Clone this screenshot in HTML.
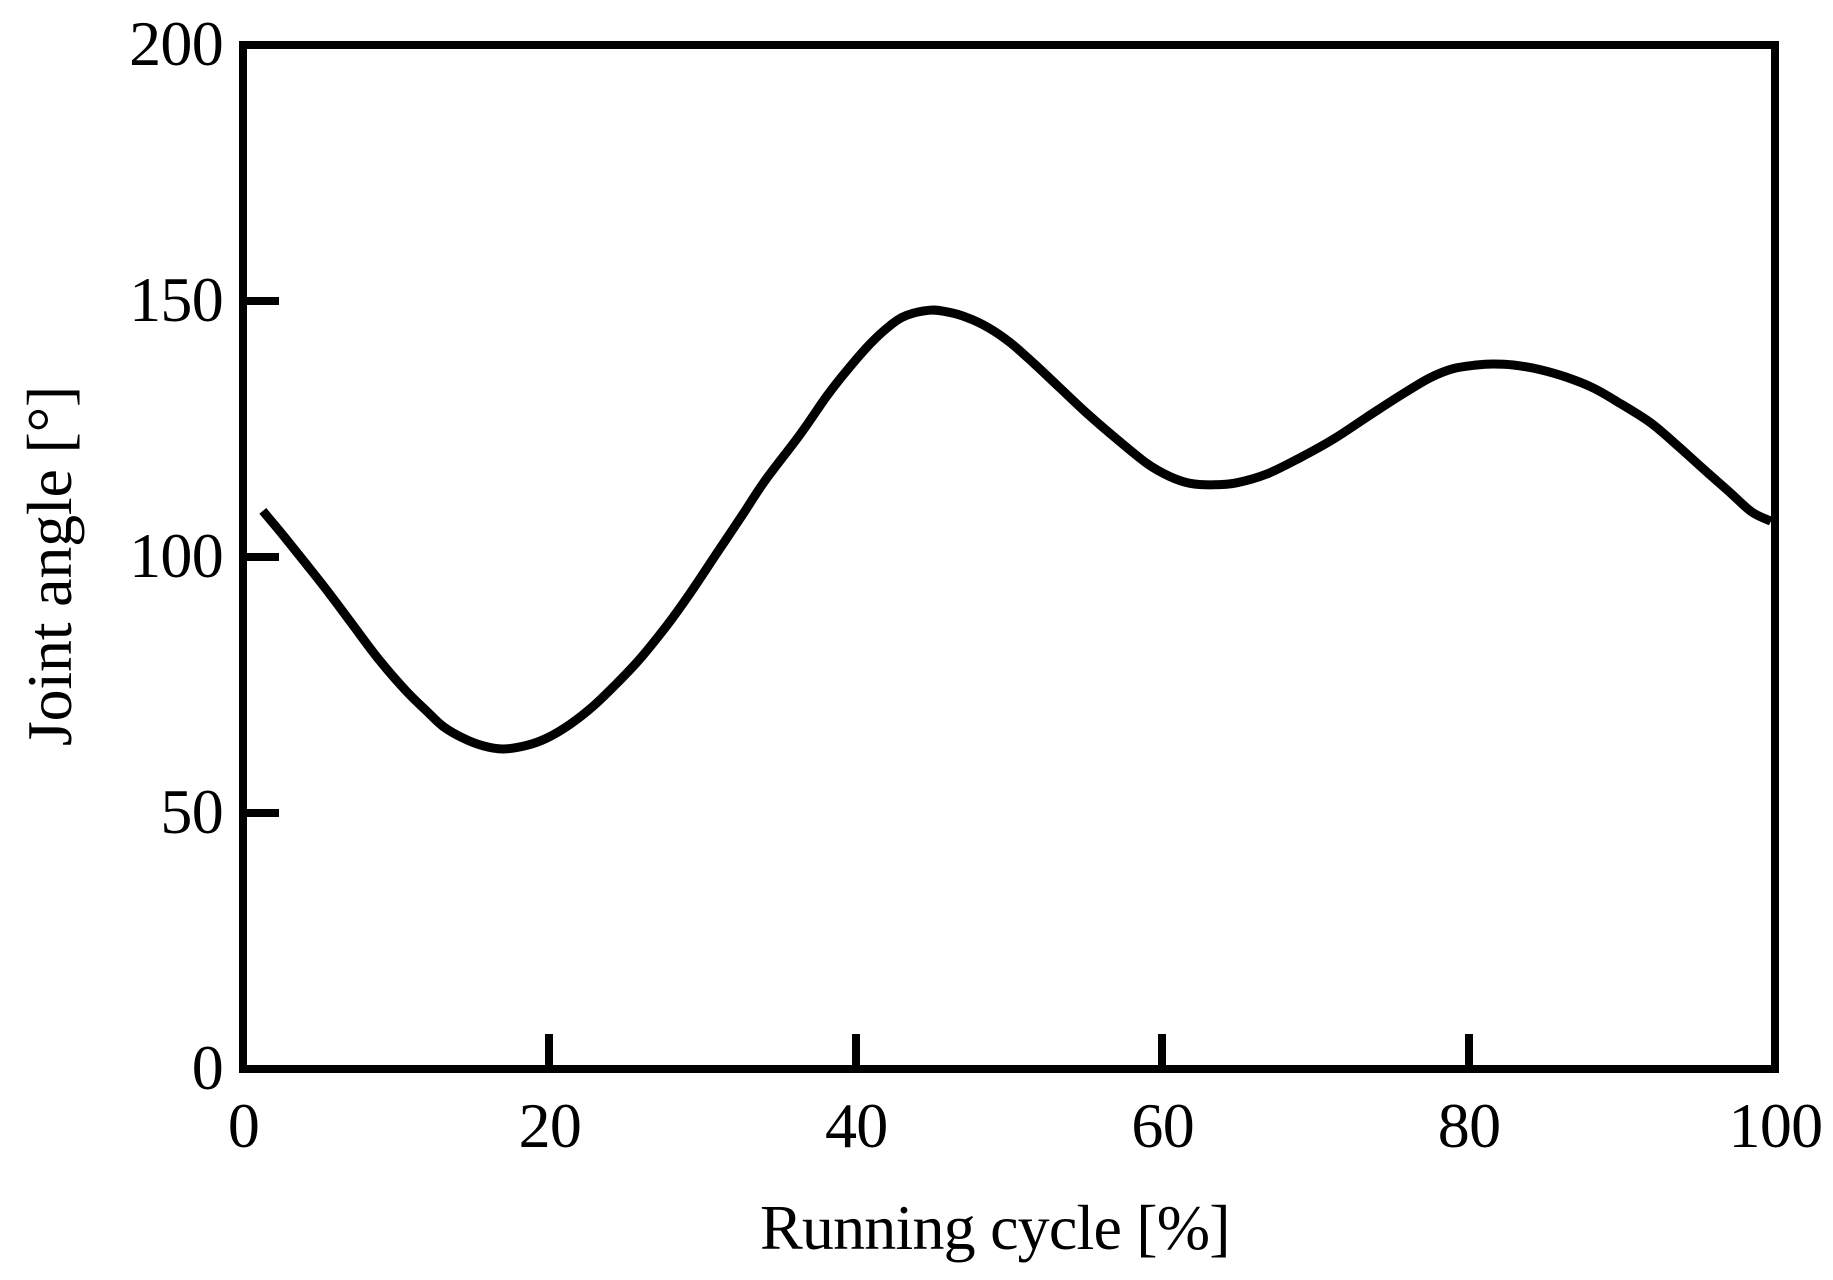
<!DOCTYPE html>
<html>
<head>
<meta charset="utf-8">
<title>Joint angle over running cycle</title>
<style>
html,body{margin:0;padding:0;background:#fff;}
svg{display:block;}
text{font-family:"Liberation Serif",serif;fill:#000;}
</style>
</head>
<body>
<svg id="chart" xmlns="http://www.w3.org/2000/svg" width="1833" height="1280" viewBox="0 0 1833 1280">
<rect x="0" y="0" width="1833" height="1280" fill="#fff"/>
<rect id="frame" fill="none" stroke="#000" stroke-width="8" shape-rendering="crispEdges"/>
<g id="ticks"></g>
<g id="labels"></g>
<path id="curve" fill="none" stroke="#000" stroke-width="9" stroke-linejoin="round"/>
<text x="760" y="1249" font-size="64" letter-spacing="-0.8">Running cycle [%]</text>
<text transform="translate(71,566) rotate(-90)" font-size="64" text-anchor="middle" letter-spacing="-0.2">Joint angle [°]</text>
</svg>
<script>
const xTicks = [0, 20, 40, 60, 80, 100];
const yTicks = [0, 50, 100, 150, 200];
const cyclePercent = [1.29,2.63,4.16,5.68,7.2,8.94,10.69,11.99,13.07,14.38,15.69,16.99,18.52,19.82,21.34,22.87,24.39,25.91,27.66,29.18,30.92,32.66,34.07,36.36,38.1,39.41,40.93,42.23,43.32,44.84,45.93,47.24,48.65,50.07,51.59,53.33,55.07,56.81,58.99,60.51,61.81,63.34,64.86,66.82,69,71.17,73.35,75.52,77.48,79,80.53,81.62,82.92,84.66,86.4,88.14,89.67,91.84,93.58,95.32,97.06,98.48,99.74];
const jointAngle = [109,104.2,98.5,92.7,86.6,79.7,73.7,69.9,66.9,64.6,63.1,62.5,63.2,64.6,67.3,70.9,75.3,80.1,86.6,92.9,100.7,108.5,114.9,123.9,131.4,136.4,141.6,145.2,147.2,148.2,147.9,146.8,144.8,141.9,137.9,133,128.1,123.6,118.3,115.7,114.4,114.1,114.5,116.2,119.4,123,127.3,131.5,135,136.8,137.5,137.7,137.5,136.6,135.1,133,130.4,126.3,121.9,117.2,112.6,108.8,107];

const SVGNS = 'http://www.w3.org/2000/svg';
const plotLeft = 243, plotRight = 1775, plotTop = 45, plotBottom = 1069;
function xScale(v){ return plotLeft + (v - 0) / 100 * (plotRight - plotLeft); }
function yScale(v){ return plotBottom - (v - 0) / 200 * (plotBottom - plotTop); }

const frame = document.getElementById('frame');
frame.setAttribute('x', xScale(0));
frame.setAttribute('y', yScale(200));
frame.setAttribute('width', xScale(100) - xScale(0));
frame.setAttribute('height', yScale(0) - yScale(200));

const tickGroup = document.getElementById('ticks');
const labelGroup = document.getElementById('labels');
function addTick(x1, y1, x2, y2){
  const ln = document.createElementNS(SVGNS, 'line');
  
  
  ln.setAttribute('x1', Math.round(x1));
  ln.setAttribute('y1', Math.round(y1));
  ln.setAttribute('x2', Math.round(x2));
  ln.setAttribute('y2', Math.round(y2));
  ln.setAttribute('stroke', '#000');
  ln.setAttribute('stroke-width', '8');
  ln.setAttribute('shape-rendering', 'crispEdges');
  tickGroup.appendChild(ln);
}
function addLabel(x, y, str, anchor){
  const t = document.createElementNS(SVGNS, 'text');
  
  
  t.setAttribute('x', x);
  t.setAttribute('y', y);
  t.setAttribute('font-size', '64');
  t.setAttribute('letter-spacing', '-0.7');
  t.setAttribute('text-anchor', anchor);
  t.textContent = str;
  labelGroup.appendChild(t);
}
xTicks.forEach(function(v){
  if (v > 0 && v < 100) addTick(xScale(v), plotBottom, xScale(v), plotBottom - 35);
  addLabel(xScale(v) + 0.5, 1147, String(v), 'middle');
});
yTicks.forEach(function(v){
  if (v > 0 && v < 200) addTick(plotLeft, yScale(v), plotLeft + 36, yScale(v));
  addLabel(223, yScale(v) + 20, String(v), 'end');
});

let d = '';
for (let i = 0; i < cyclePercent.length; i++) {
  const px = xScale(cyclePercent[i]), py = yScale(jointAngle[i]);
  if (i === 0) { d = 'M' + px.toFixed(1) + ' ' + py.toFixed(1); continue; }
  const i0 = Math.max(0, i - 2), i3 = Math.min(cyclePercent.length - 1, i + 1);
  const p0x = xScale(cyclePercent[i0]), p0y = yScale(jointAngle[i0]);
  const p1x = xScale(cyclePercent[i - 1]), p1y = yScale(jointAngle[i - 1]);
  const p3x = xScale(cyclePercent[i3]), p3y = yScale(jointAngle[i3]);
  const c1x = p1x + (px - p0x) / 6, c1y = p1y + (py - p0y) / 6;
  const c2x = px - (p3x - p1x) / 6, c2y = py - (p3y - p1y) / 6;
  d += ' C' + c1x.toFixed(1) + ' ' + c1y.toFixed(1) + ' ' + c2x.toFixed(1) + ' ' + c2y.toFixed(1) + ' ' + px.toFixed(1) + ' ' + py.toFixed(1);
}
document.getElementById('curve').setAttribute('d', d);
</script>
</body>
</html>
